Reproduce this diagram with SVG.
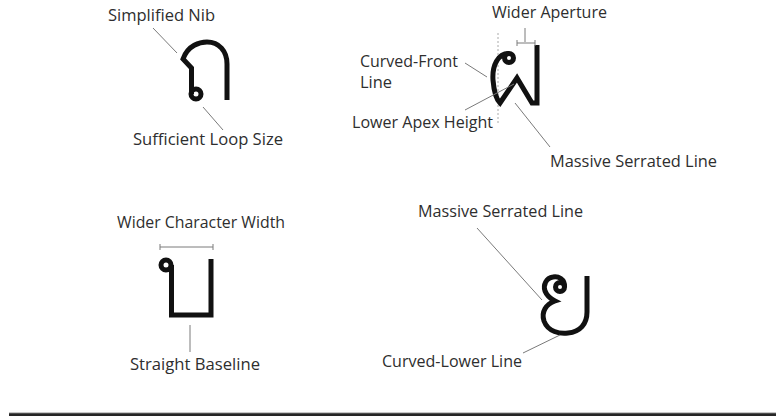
<svg xmlns="http://www.w3.org/2000/svg" width="776" height="416" viewBox="0 0 776 416">
<style>
.lbl{font-family:"Open Sans","Noto Sans","Liberation Sans",sans-serif;font-size:16px;fill:#2e2e2e}
.lead{stroke:#7a7a7a;stroke-width:1;fill:none}
.g{stroke:#111;stroke-width:5;fill:none;stroke-linejoin:miter;stroke-linecap:butt}
</style>
<rect width="776" height="416" fill="#fff"/>
<g id="glyph-tho">
<circle class="g" cx="196" cy="94" r="5"/>
<path class="g" d="M191.5 94 L191.5 68 L183 59 C188 45 200 42 207 42 C219 42 227 51 227 64 L227 100"/>
</g>
<g id="glyph-fo">
<line x1="498" y1="33" x2="498" y2="125" stroke="#aaa" stroke-width="1" stroke-dasharray="2,2"/>
<circle class="g" cx="509" cy="58" r="4.5"/>
<path class="g" d="M509 53.5 C498 53 492 66 493 80 C494 92 497 100 500 103 L517 78 L532 103 L537 103 L537 45"/>
</g>
<g id="glyph-po">
<circle class="g" cx="166" cy="265" r="5"/>
<path class="g" d="M171.5 265 L171.5 315 L211 315 L211 259"/>
</g>
<g id="glyph-yo">
<circle class="g" cx="560" cy="287" r="4.5"/>
<path class="g" d="M564.5 287 C565 279 558 276 553 277 C546 278 543 285 545 291 C547 296 551 299 555 301 C546 304 541 312 544 321 C548 332 560 334 568 333 C580 332 587 324 587 312 L587 276"/>
</g>
<g id="connectors">
<line class="lead" x1="153" y1="28" x2="177" y2="53"/>
<line class="lead" x1="203" y1="107" x2="223" y2="130"/>
<line class="lead" x1="525" y1="28" x2="525" y2="42"/>
<path class="lead" d="M517 40 V46 M517 43 H535 M535 40 V46"/>
<line class="lead" x1="465" y1="63" x2="487" y2="77"/>
<line class="lead" x1="465" y1="110" x2="514" y2="84"/>
<line class="lead" x1="515" y1="103" x2="550" y2="147"/>
<path class="lead" d="M160 244 V250 M160 247 H213 M213 244 V250"/>
<line class="lead" x1="190" y1="325" x2="190" y2="352"/>
<line class="lead" x1="477" y1="228" x2="542" y2="300"/>
<line class="lead" x1="523" y1="353" x2="560" y2="335"/>
</g>
<g id="labels">
<text class="lbl" x="108" y="21" textLength="107" lengthAdjust="spacingAndGlyphs">Simplified Nib</text>
<text class="lbl" x="133" y="145" textLength="150" lengthAdjust="spacingAndGlyphs">Sufficient Loop Size</text>
<text class="lbl" x="492" y="18" textLength="115" lengthAdjust="spacingAndGlyphs">Wider Aperture</text>
<text class="lbl" x="360" y="67" textLength="98" lengthAdjust="spacingAndGlyphs">Curved-Front</text>
<text class="lbl" x="360" y="88" textLength="32" lengthAdjust="spacingAndGlyphs">Line</text>
<text class="lbl" x="352" y="128" textLength="141" lengthAdjust="spacingAndGlyphs">Lower Apex Height</text>
<text class="lbl" x="550" y="167" textLength="167" lengthAdjust="spacingAndGlyphs">Massive Serrated Line</text>
<text class="lbl" x="117" y="228" textLength="168" lengthAdjust="spacingAndGlyphs">Wider Character Width</text>
<text class="lbl" x="130" y="370" textLength="130" lengthAdjust="spacingAndGlyphs">Straight Baseline</text>
<text class="lbl" x="418" y="217" textLength="165" lengthAdjust="spacingAndGlyphs">Massive Serrated Line</text>
<text class="lbl" x="382" y="367" textLength="140" lengthAdjust="spacingAndGlyphs">Curved-Lower Line</text>
</g>
<rect x="9" y="412" width="767" height="1.2" fill="#c8c8c8"/>
<rect x="9" y="413.2" width="767" height="2.8" fill="#262626"/>
</svg>
